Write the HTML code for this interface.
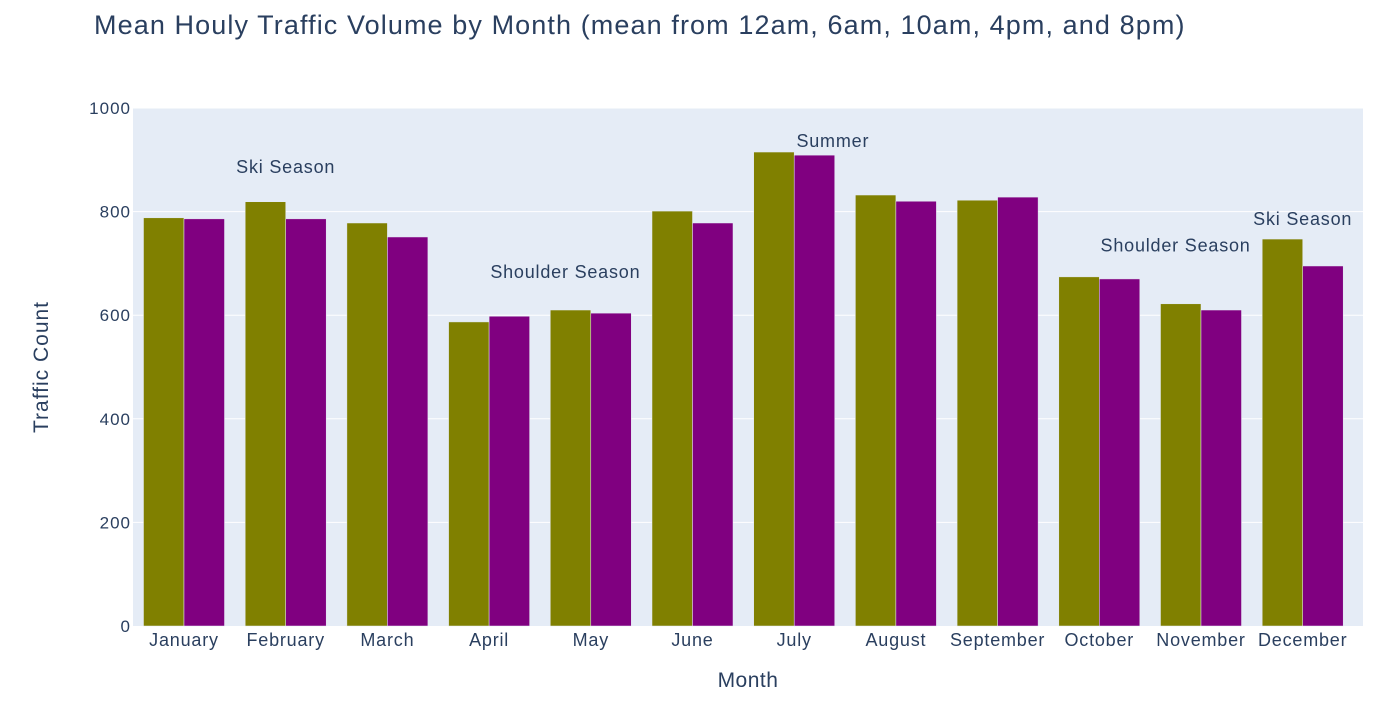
<!DOCTYPE html>
<html><head><meta charset="utf-8"><style>
html,body{margin:0;padding:0;background:#fff;}
svg{display:block;font-family:"Liberation Sans",sans-serif;}
</style></head><body>
<svg id="chart" width="1382" height="707">
<rect width="1382" height="707" fill="#fff"/>
<text x="94" y="34" font-size="27" letter-spacing="1.1" fill="#2a3f5f">Mean Houly Traffic Volume by Month (mean from 12am, 6am, 10am, 4pm, and 8pm)</text>
<rect x="133" y="108" width="1230" height="518" fill="#e5ecf6"/>
<g id="grid"></g><g id="bars"></g><g id="ticks"></g><g id="annots"></g>
<text x="748" y="687" font-size="21" letter-spacing="0.5" fill="#2a3f5f" text-anchor="middle">Month</text>
<text x="48" y="367" font-size="21" letter-spacing="1" fill="#2a3f5f" text-anchor="middle" transform="rotate(-90 48 367)">Traffic Count</text>
</svg>
<script>
const months=["January","February","March","April","May","June","July","August","September","October","November","December"];
const seriesA=[788,819,778,587,610,801,915,832,822,674,622,747];
const seriesB=[786,786,751,598,604,778,909,820,828,670,610,695];
const yTicks=[0,200,400,600,800,1000];
const annotText=["Ski Season","Shoulder Season","Summer","Shoulder Season","Ski Season"];
const annotX=[1,3.75,6.38,9.75,11];
const annotY=[886,683,936,735,786];
const NS="http://www.w3.org/2000/svg";
const L=133,W=1230,T=108,H=518,B=T+H;
const band=101.7;
const x=i=>184+band*i;
const y=v=>B-v/1000*H;
function mk(tag,attrs,parent){const e=document.createElementNS(NS,tag);for(const k in attrs)e.setAttribute(k,attrs[k]);document.getElementById(parent).appendChild(e);return e;}
yTicks.forEach(t=>{
  if(t>0){const g=mk('line',{x1:L,x2:L+W,y1:y(t),y2:y(t),stroke:'#fff','stroke-width':1},'grid');
  
  }
  const tx=mk('text',{x:L-2,y:y(t)+6,'font-size':17,'letter-spacing':1,fill:'#2a3f5f','text-anchor':'end'},'ticks');
  tx.textContent=t;
  
  
});
const bw=40.5;
months.forEach((m,i)=>{
  const a=mk('rect',{x:x(i)-bw,y:y(seriesA[i]),width:bw,height:B-y(seriesA[i]),fill:'#808000',stroke:'#e5ecf6','stroke-width':0.5},'bars');
  
  
  const b=mk('rect',{x:x(i),y:y(seriesB[i]),width:bw,height:B-y(seriesB[i]),fill:'#800080',stroke:'#e5ecf6','stroke-width':0.5},'bars');
  
  
  const t=mk('text',{x:x(i),y:B+20,'font-size':18,'letter-spacing':0.8,fill:'#2a3f5f','text-anchor':'middle'},'ticks');
  t.textContent=m;
  
  
});
annotText.forEach((s,i)=>{
  const t=mk('text',{x:x(annotX[i]),y:y(annotY[i])+6,'font-size':18,'letter-spacing':0.8,fill:'#2a3f5f','text-anchor':'middle'},'annots');
  t.textContent=s;
  
  
});
</script>
</body></html>
